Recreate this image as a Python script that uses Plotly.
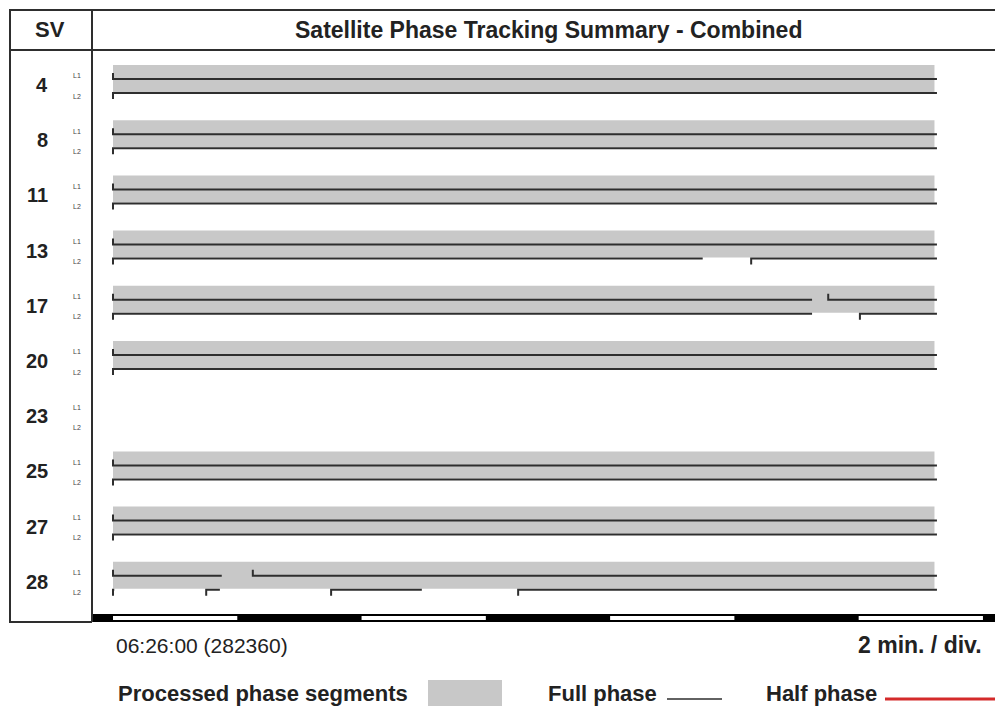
import plotly.graph_objects as go

# ---------------- data (time in minutes after 06:26:00) ----------------
sv_labels = ["4", "8", "11", "13", "17", "20", "23", "25", "27", "28"]

processed_segments = [
    [(0.0, 13.22)],  # 4
    [(0.0, 13.22)],  # 8
    [(0.0, 13.22)],  # 11
    [(0.0, 13.22)],  # 13
    [(0.0, 13.22)],  # 17
    [(0.0, 13.22)],  # 20
    [],              # 23
    [(0.0, 13.22)],  # 25
    [(0.0, 13.22)],  # 27
    [(0.0, 13.22)],  # 28
]

l1_segments = [
    [(0.0, 13.26)],
    [(0.0, 13.26)],
    [(0.0, 13.26)],
    [(0.0, 13.26)],
    [(0.0, 11.25), (11.51, 13.26)],
    [(0.0, 13.26)],
    [],
    [(0.0, 13.26)],
    [(0.0, 13.26)],
    [(0.0, 1.75), (2.25, 13.26)],
]

l2_segments = [
    [(0.0, 13.26)],
    [(0.0, 13.26)],
    [(0.0, 13.26)],
    [(0.0, 9.49), (10.27, 13.26)],
    [(0.0, 11.25), (12.02, 13.26)],
    [(0.0, 13.26)],
    [],
    [(0.0, 13.26)],
    [(0.0, 13.26)],
    [(0.0, 0.02), (1.50, 1.72), (3.51, 4.97), (6.52, 13.26)],
]

time_divisions = [0, 2, 4, 6, 8, 10, 12, 14]
x_range = [-0.338, 14.194]
start_label = "06:26:00 (282360)"
scale_label = "2 min. / div."
title_text = "Satellite Phase Tracking Summary - Combined"
sv_header = "SV"
legend_labels = ["Processed phase segments", "Full phase", "Half phase"]

# ---------------- geometry / style ----------------
W, H = 995, 708
PLOT_LEFT, PLOT_TOP, PLOT_BOTTOM = 92, 50, 622
FIRST_PX, ROW_PX = 79, 55.2
L2_OFF = 14 / ROW_PX
TICK = 6 / ROW_PX
BAND_TOP, BAND_BOT = -14 / ROW_PX, 13 / ROW_PX

FONT = "Liberation Sans, Arial, Helvetica, sans-serif"
TXT = "#222222"
LINE = "#2e2e2e"
GRAY = "#c8c8c8"
RED = "#d42a2a"


def px_x(p):
    return (p - PLOT_LEFT) / (W - PLOT_LEFT)


def px_y(p):
    return (PLOT_BOTTOM - p) / (PLOT_BOTTOM - PLOT_TOP)


def row_px(k):
    return FIRST_PX + ROW_PX * k


fig = go.Figure()

# processed phase bands
bx, bbase, by = [], [], []
for k, segs in enumerate(processed_segments):
    for s, e in segs:
        bx.append(e - s)
        bbase.append(s)
        by.append(k + (BAND_TOP + BAND_BOT) / 2)
fig.add_trace(go.Bar(
    x=bx, base=bbase, y=by, orientation="h", width=BAND_BOT - BAND_TOP,
    marker=dict(color=GRAY, line=dict(width=0)), hoverinfo="skip",
))


def seg_trace(segments, offset, tick_dir):
    xs, ys = [], []
    for k, segs in enumerate(segments):
        y = k + offset
        for s, e in segs:
            xs += [s, s, e, None]
            ys += [y + tick_dir * TICK, y, y, None]
    return go.Scatter(x=xs, y=ys, mode="lines",
                      line=dict(color=LINE, width=2), hoverinfo="skip")


fig.add_trace(seg_trace(l1_segments, 0.0, -1))
fig.add_trace(seg_trace(l2_segments, L2_OFF, +1))

shapes = []
# time division bar
shapes.append(dict(type="rect", xref="x", yref="paper",
                   x0=x_range[0], x1=x_range[1], y0=px_y(622), y1=px_y(614),
                   fillcolor="#000000", line=dict(width=0), layer="above"))
for i in range(0, len(time_divisions) - 1, 2):
    shapes.append(dict(type="rect", xref="x", yref="paper",
                       x0=time_divisions[i], x1=time_divisions[i + 1],
                       y0=px_y(620), y1=px_y(616),
                       fillcolor="#ffffff", line=dict(width=0), layer="above"))


def hline(y, x0, x1, w=2):
    shapes.append(dict(type="line", xref="paper", yref="paper",
                       x0=px_x(x0), x1=px_x(x1), y0=px_y(y), y1=px_y(y),
                       line=dict(color=LINE, width=w)))


def vline(x, y0, y1, w=2):
    shapes.append(dict(type="line", xref="paper", yref="paper",
                       x0=px_x(x), x1=px_x(x), y0=px_y(y0), y1=px_y(y1),
                       line=dict(color=LINE, width=w)))


hline(10, 9, 995)
hline(50, 9, 995)
vline(10, 10, 622)
vline(92, 10, 622)
hline(622, 9, 92)

# legend marks
shapes.append(dict(type="rect", xref="paper", yref="paper",
                   x0=px_x(428), x1=px_x(502), y0=px_y(706), y1=px_y(680),
                   fillcolor=GRAY, line=dict(width=0)))
shapes.append(dict(type="line", xref="paper", yref="paper",
                   x0=px_x(667), x1=px_x(722), y0=px_y(699), y1=px_y(699),
                   line=dict(color=LINE, width=1.5)))
shapes.append(dict(type="line", xref="paper", yref="paper",
                   x0=px_x(885), x1=px_x(995), y0=px_y(699), y1=px_y(699),
                   line=dict(color=RED, width=3)))

ann = []


def text(t, x, y, size, bold=False, xanchor="center", color=TXT):
    ann.append(dict(text=f"<b>{t}</b>" if bold else t, xref="paper", yref="paper",
                    x=px_x(x), y=px_y(y), xanchor=xanchor, yanchor="middle",
                    showarrow=False, font=dict(family=FONT, size=size, color=color)))


text(sv_header, 50, 30, 22, bold=True)
text(title_text, 548, 30, 23, bold=True)
for k, lab in enumerate(sv_labels):
    yy = row_px(k)
    text(lab, 50, yy + 6, 20, bold=True, xanchor="right")
    text("L1", 77, yy - 3, 7, color="#444444")
    text("L2", 77, yy + 17, 7, color="#444444")

text(start_label, 114, 645, 21, xanchor="left")
text(scale_label, 984, 645, 23, bold=True, xanchor="right")
text(legend_labels[0], 116, 693, 22, bold=True, xanchor="left")
text(legend_labels[1], 546, 693, 22, bold=True, xanchor="left")
text(legend_labels[2], 764, 693, 22, bold=True, xanchor="left")

fig.update_layout(
    width=W, height=H,
    margin=dict(l=PLOT_LEFT, r=0, t=PLOT_TOP, b=H - PLOT_BOTTOM, pad=0),
    paper_bgcolor="white", plot_bgcolor="white",
    showlegend=False,
    xaxis=dict(range=x_range, visible=False, fixedrange=True),
    yaxis=dict(range=[(PLOT_BOTTOM - FIRST_PX) / ROW_PX, (PLOT_TOP - FIRST_PX) / ROW_PX],
               visible=False, fixedrange=True),
    shapes=shapes, annotations=ann,
    barmode="overlay",
)

fig.write_html(
    "out.html",
    config={"displayModeBar": False},
    post_script="document.body.style.margin='0';document.body.style.overflow='hidden';",
)
